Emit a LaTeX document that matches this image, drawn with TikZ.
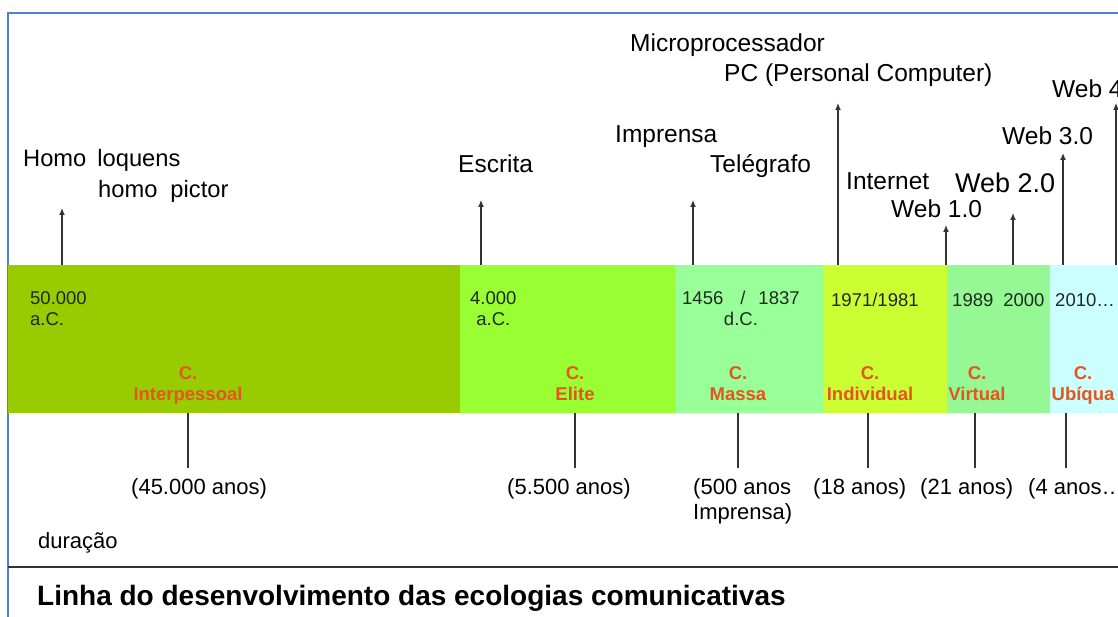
\documentclass[tikz,border=0pt]{standalone}
\usepackage{fontspec}
\setmainfont{Liberation Sans}
\usetikzlibrary{arrows.meta}
\definecolor{cInter}{HTML}{99CC00}
\definecolor{cElite}{HTML}{99FF33}
\definecolor{cMassa}{HTML}{99FF99}
\definecolor{cIndiv}{HTML}{CCFF33}
\definecolor{cVirt}{HTML}{95F895}
\definecolor{cUbiq}{HTML}{CCFFFF}
\definecolor{cRed}{HTML}{E4561E}
\definecolor{cFrame}{HTML}{4F81D9}
\definecolor{cTxt}{HTML}{1E2A1E}
\definecolor{cLine}{HTML}{333333}
\begin{document}
\begin{tikzpicture}[x=1pt,y=-1pt,
  toplbl/.style={inner sep=0pt, anchor=base west, font=\fontsize{24.5}{28}\selectfont},
  numlbl/.style={inner sep=0pt, anchor=base west, text=cTxt, font=\fontsize{18.5}{21}\selectfont},
  eralbl/.style={inner sep=0pt, anchor=base, align=center, text=cRed, font=\bfseries\fontsize{18.5}{21}\selectfont},
  durlbl/.style={inner sep=0pt, anchor=base west, align=left, font=\fontsize{22}{25}\selectfont},
  uparrow/.style={draw=cLine, line width=1.2pt, -{Latex[length=7pt,width=6pt]}},
  downline/.style={draw=cLine, line width=1.1pt}]
\useasboundingbox (0,0) rectangle (1118,617);
\fill[white] (0,0) rectangle (1118,617);

% frame
\draw[cFrame, line width=2pt] (8,617) -- (8,13) -- (1120,13);
\draw[cLine, line width=1.6pt] (8,567) -- (1120,567);

% bands
\fill[cInter] (8,265) rectangle (460,413);
\fill[cElite] (460,265) rectangle (675,413);
\fill[cMassa] (675,265) rectangle (823,413);
\fill[cIndiv] (823,265) rectangle (947,413);
\fill[cVirt]  (947,265) rectangle (1050,413);
\fill[cUbiq]  (1050,265) rectangle (1120,413);

% top labels
\node[toplbl, font=\fontsize{23.7}{28}\selectfont] (homo1) at (23,167) {Homo\hspace{11pt}loquens};
\node[toplbl, font=\fontsize{23.7}{28}\selectfont] (homo2) at (98,198) {homo\hspace{13pt}pictor};
\node[toplbl] (escrita) at (458,173) {Escrita};
\node[toplbl] (imprensa) at (615,143) {Imprensa};
\node[toplbl] (telegrafo) at (710,173) {Telégrafo};
\node[toplbl] (micro) at (630,52) {Microprocessador};
\node[toplbl] (pc) at (724,82) {PC (Personal Computer)};
\node[toplbl] (internet) at (846,190) {Internet};
\node[toplbl] (web1) at (891,218) {Web 1.0};
\node[toplbl, font=\fontsize{27}{30}\selectfont] (web2) at (955,193) {Web 2.0};
\node[toplbl] (web3) at (1002,145) {Web 3.0};
\node[toplbl] (web4) at (1052,98) {Web 4};

% up arrows
\foreach \n/\x/\t in {Homo/62/208, Escrita/481/200, Imprensa/693/200, PC/838/103, WebA/946/225, WebB/1013/213, WebC/1063/153, WebD/1116/103}{
  \coordinate (b\n) at (\x,265);
  \coordinate (t\n) at (\x,\t);
  \draw[uparrow] (b\n) -- (t\n);
}

% numbers in bands (anchor = baseline of last line)
\node[numlbl, align=left] (n1) at (30,326) {50.000\\a.C.};
\node[numlbl, align=center] (n2) at (470,326) {4.000\\a.C.};
\node[numlbl, align=center] (n3) at (682,326) {1456\hspace{17pt}/\hspace{13pt}1837\\d.C.};
\node[numlbl] (n4) at (831,307) {1971/1981};
\node[numlbl] (n5) at (952,307) {1989\hspace{10pt}2000};
\node[numlbl] (n6) at (1055,307) {2010…};

% era labels (anchor = baseline of last line)
\node[eralbl] (e1) at (188,400) {C.\\Interpessoal};
\node[eralbl] (e2) at (575,400) {C.\\Elite};
\node[eralbl] (e3) at (738,400) {C.\\Massa};
\node[eralbl] (e4) at (870,400) {C.\\Individual};
\node[eralbl] (e5) at (977,400) {C.\\Virtual};
\node[eralbl] (e6) at (1083,400) {C.\\Ubíqua};

% down lines
\foreach \n/\x in {A/188, B/575, C/738, D/868, E/975, F/1066}{
  \coordinate (d\n) at (\x,413);
  \coordinate (e\n) at (\x,468);
  \draw[downline] (d\n) -- (e\n);
}

% durations
\node[durlbl] (u1) at (131,494) {(45.000 anos)};
\node[durlbl] (u2) at (507,494) {(5.500 anos)};
\node[durlbl] (u3) at (693,519) {(500 anos\\Imprensa)};
\node[durlbl] (u4) at (813,494) {(18 anos)};
\node[durlbl] (u5) at (920,494) {(21 anos)};
\node[durlbl] (u6) at (1028,494) {(4 anos…};
\node[durlbl] (dur) at (38,548) {duração};

% title
\node[inner sep=0pt, anchor=base west, font=\bfseries\fontsize{28}{32}\selectfont] (title) at (37,605) {Linha do desenvolvimento das ecologias comunicativas};
\end{tikzpicture}
\end{document}
